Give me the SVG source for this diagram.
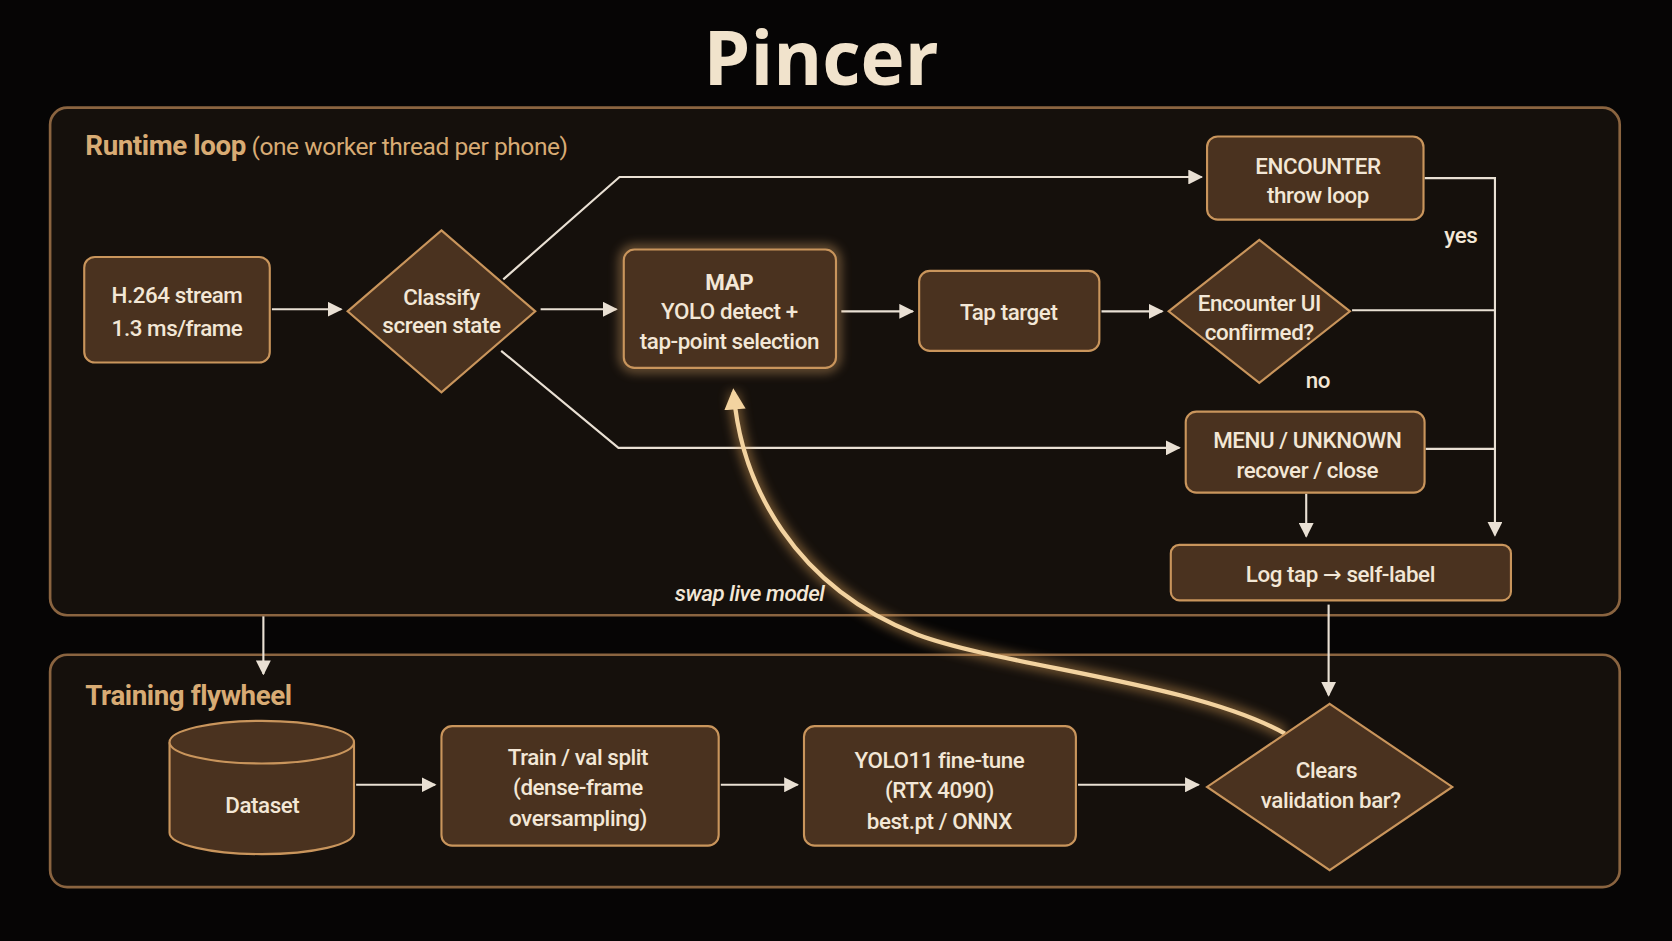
<svg xmlns="http://www.w3.org/2000/svg" width="1672" height="941" viewBox="0 0 1672 941">
<defs>
<style>
.panel{fill:#15100c;stroke:#8a6440;stroke-width:2.5}
.node{fill:#4a321f;stroke:#c9955c;stroke-width:2}
.t{font-family:"Roboto","Liberation Sans",sans-serif;font-size:21px;font-weight:500;letter-spacing:-0.4px;fill:#f3e7d6;text-anchor:middle}
.b{font-weight:bold}
.lbl{font-family:"Roboto","Liberation Sans",sans-serif;font-size:26px;fill:#d8ab74}
.c{fill:none;stroke:#e9e0d4;stroke-width:2}
</style>
<marker id="ah" viewBox="0 0 10 10" refX="9" refY="5" markerWidth="7" markerHeight="7" orient="auto"><path d="M0,0L10,5L0,10z" fill="#e9e0d4"/></marker>
<marker id="ah2" viewBox="0 0 10 10" refX="8" refY="5" markerWidth="5" markerHeight="5" orient="auto"><path d="M0,0L10,5L0,10z" fill="#f3d3a0"/></marker>
<filter id="glow" x="-30%" y="-30%" width="160%" height="160%"><feGaussianBlur stdDeviation="5"/></filter>
</defs>
<rect width="1672" height="941" fill="#060505"/>
<g transform="scale(1.0663)">
<text x="770" y="80" font-family="'Open Sans','DejaVu Sans',sans-serif" font-size="70" font-weight="bold" fill="#f1e3cc" text-anchor="middle">Pincer</text>
<g id="runtime"><rect class="panel" x="47" y="101" width="1472" height="476" rx="16"/>
<text x="80" y="145" class="lbl" letter-spacing="-0.4"><tspan font-weight="bold">Runtime loop</tspan><tspan font-size="23"> (one worker thread per phone)</tspan></text></g>
<g id="training"><rect class="panel" x="47" y="614" width="1472" height="218" rx="16"/>
<text x="80" y="661" class="lbl" font-weight="bold" letter-spacing="-0.4">Training flywheel</text></g>
<g id="connectors">
<path class="c" d="M255,290H320" marker-end="url(#ah)"/>
<path class="c" d="M507,290H578" marker-end="url(#ah)"/>
<path class="c" d="M789,292H856" marker-end="url(#ah)"/>
<path class="c" d="M1033,292H1090" marker-end="url(#ah)"/>
<path class="c" d="M472,262L581,166H1127" marker-end="url(#ah)"/>
<path class="c" d="M470,329L580,420H1106" marker-end="url(#ah)"/>
<path class="c" d="M1268,291H1402"/>
<path class="c" d="M1337,421H1402"/>
<path class="c" d="M1336,167H1402V502" marker-end="url(#ah)"/>
<path class="c" d="M1225,463V503" marker-end="url(#ah)"/>
<path class="c" d="M1246,567V652" marker-end="url(#ah)"/>
<path class="c" d="M247,578V632" marker-end="url(#ah)"/>
<path class="c" d="M334,736H408" marker-end="url(#ah)"/>
<path class="c" d="M676,736H748" marker-end="url(#ah)"/>
<path class="c" d="M1011,736H1124" marker-end="url(#ah)"/>
<path d="M1205,688C1120,640 940,625 860,595C745,550 695,455 688,368" fill="none" stroke="#e0a55c" stroke-width="10" opacity="0.5" filter="url(#glow)"/>
<path d="M1205,688C1120,640 940,625 860,595C745,550 695,455 688,368" fill="none" stroke="#f3d3a0" stroke-width="4" marker-end="url(#ah2)"/>
<text x="1370" y="228" class="t">yes</text>
<text x="1236" y="364" class="t">no</text>
<text x="703" y="564" class="t" font-style="italic" fill="#d8ab74">swap live model</text>
</g>
<g id="h264"><rect class="node" x="79" y="241" width="174" height="99" rx="10"/><text class="t" x="166" y="284">H.264 stream</text><text class="t" x="166" y="315">1.3 ms/frame</text></g>
<g id="classify"><path class="node" d="M414,216L502,292L414,368L326,292z"/><text class="t" x="414" y="286">Classify</text><text class="t" x="414" y="312">screen state</text></g>
<g id="map"><rect x="585" y="234" width="199" height="111" rx="10" fill="none" stroke="#e8b070" stroke-width="8" opacity="0.5" filter="url(#glow)"/><rect class="node" x="585" y="234" width="199" height="111" rx="10" stroke="#f0c890"/><text class="t b" x="684" y="272" font-size="24">MAP</text><text class="t" x="684" y="299">YOLO detect +</text><text class="t" x="684" y="327">tap-point selection</text></g>
<g id="tap"><rect class="node" x="862" y="254" width="169" height="75" rx="10"/><text class="t" x="946" y="300">Tap target</text></g>
<g id="encui"><path class="node" d="M1181,225L1266,292L1181,359L1096,292z"/><text class="t" x="1181" y="292">Encounter UI</text><text class="t" x="1181" y="319">confirmed?</text></g>
<g id="encounter"><rect class="node" x="1132" y="128" width="203" height="78" rx="10"/><text class="t" x="1236" y="163">ENCOUNTER</text><text class="t" x="1236" y="190">throw loop</text></g>
<g id="menu"><rect class="node" x="1112" y="386" width="224" height="76" rx="10"/><text class="t" x="1226" y="420">MENU / UNKNOWN</text><text class="t" x="1226" y="448">recover / close</text></g>
<g id="logtap"><rect class="node" x="1098" y="511" width="319" height="52" rx="8"/><text class="t" x="1257" y="546" font-size="23">Log tap <tspan font-family="'DejaVu Sans',sans-serif">→</tspan> self-label</text></g>
<g id="dataset"><path class="node" d="M159,696V781A86.5,20 0 0 0 332,781V696"/><ellipse class="node" cx="245.5" cy="696" rx="86.5" ry="20"/><text class="t" x="246" y="762" font-size="23">Dataset</text></g>
<g id="trainval"><rect class="node" x="414" y="681" width="260" height="112" rx="10"/><text class="t" x="542" y="717">Train / val split</text><text class="t" x="542" y="746">(dense-frame</text><text class="t" x="542" y="775">oversampling)</text></g>
<g id="yolo11"><rect class="node" x="754" y="681" width="255" height="112" rx="10"/><text class="t" x="881" y="720">YOLO11 fine-tune</text><text class="t" x="881" y="748">(RTX 4090)</text><text class="t" x="881" y="777">best.pt / ONNX</text></g>
<g id="clears"><path class="node" d="M1247,660L1362,738L1247,816L1132,738z"/><text class="t" x="1244" y="730" font-size="22">Clears</text><text class="t" x="1248" y="758" font-size="22">validation bar?</text></g>
</g>
</svg>
